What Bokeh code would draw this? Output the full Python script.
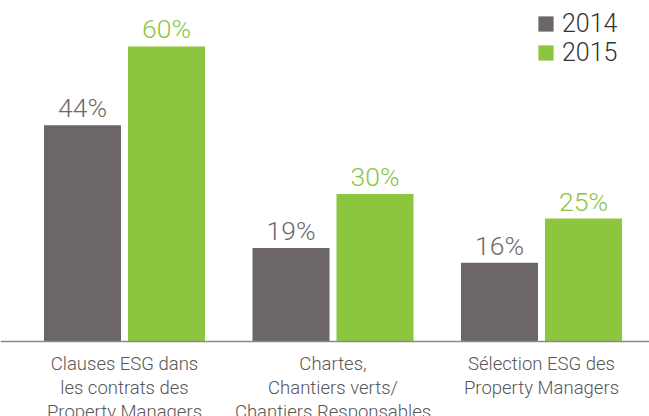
from bokeh.plotting import figure
from bokeh.models import ColumnDataSource, Range1d, Span, Legend, LegendItem
from bokeh.core.properties import value
from bokeh.embed import file_html
from bokeh.resources import INLINE

categories = ["Clauses ESG dans\nles contrats des\nProperty Managers",
              "Chartes,\nChantiers verts/\nChantiers Responsables",
              "Sélection ESG des\nProperty Managers"]
years = ["2014", "2015"]
v2014 = [44, 19, 16]
v2015 = [60, 30, 25]

GRAY = "#6c6766"
GREEN = "#8cc63f"
FONT = "Roboto Light"

idx = list(range(len(categories)))
off = 0.2014
bw = 0.3693

s14 = ColumnDataSource(dict(x=[i - off for i in idx], top=v2014,
                            lab=[f"{v}%" for v in v2014]))
s15 = ColumnDataSource(dict(x=[i + off for i in idx], top=v2015,
                            lab=[f"{v}%" for v in v2015]))
scat = ColumnDataSource(dict(x=idx, y=[0] * len(idx), lab=categories))

p = figure(width=649, height=416, output_backend="svg", toolbar_location=None,
           x_range=Range1d(-0.5947, 2.518), y_range=Range1d(-15.25, 69.35),
           min_border_left=0, min_border_right=0, min_border_top=0, min_border_bottom=0)
p.axis.visible = False
p.grid.visible = False
p.outline_line_color = None
p.background_fill_color = "white"
p.border_fill_color = "white"

r14 = p.vbar(x="x", top="top", bottom=0, width=bw, source=s14, color=GRAY, line_color=None)
r15 = p.vbar(x="x", top="top", bottom=0, width=bw, source=s15, color=GREEN, line_color=None)

p.text(x="x", y="top", text="lab", source=s14, text_align="center", text_baseline="bottom",
       y_offset=-2, text_font=value(FONT), text_font_size="26.5px", text_color="#6f6a69")
p.text(x="x", y="top", text="lab", source=s15, text_align="center", text_baseline="bottom",
       y_offset=-2, text_font=value(FONT), text_font_size="26.5px", text_color=GREEN)

p.add_layout(Span(location=0, dimension="width", line_color="#8a8a8a", line_width=1.5))

p.text(x="x", y="y", text="lab", source=scat, y_offset=11,
       text_align="center", text_baseline="top", text_font=value(FONT),
       text_font_size="18.5px", text_color="#585858", text_line_height=1.1)

legend = Legend(items=[LegendItem(label=years[0], renderers=[r14]),
                       LegendItem(label=years[1], renderers=[r15])],
                location=(536, 349), orientation="vertical",
                label_text_font=FONT, label_text_font_size="25px", label_text_color="#333333",
                glyph_width=19, glyph_height=19, label_standoff=7, spacing=-2,
                padding=0, margin=0, border_line_color=None, background_fill_alpha=0)
p.add_layout(legend)

open("out.html", "w").write(file_html(p, INLINE))
